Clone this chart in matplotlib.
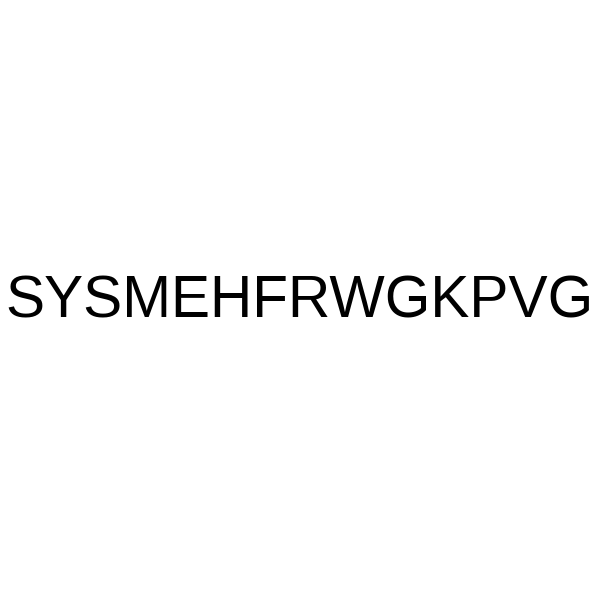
import matplotlib
matplotlib.use('Agg')
import matplotlib.pyplot as plt

# 序列文字
label = 'SYSMEHFRWGKPVG'
text_x = 0.5
text_y = 0.497

fig = plt.figure(figsize=(6, 6), dpi=100)
fig.patch.set_facecolor('white')
fig.text(text_x, text_y, label, ha='center', va='center',
         fontsize=42.2, family=['Liberation Sans', 'DejaVu Sans'], color='black')
fig.savefig('out.png', dpi=100, facecolor='white')
